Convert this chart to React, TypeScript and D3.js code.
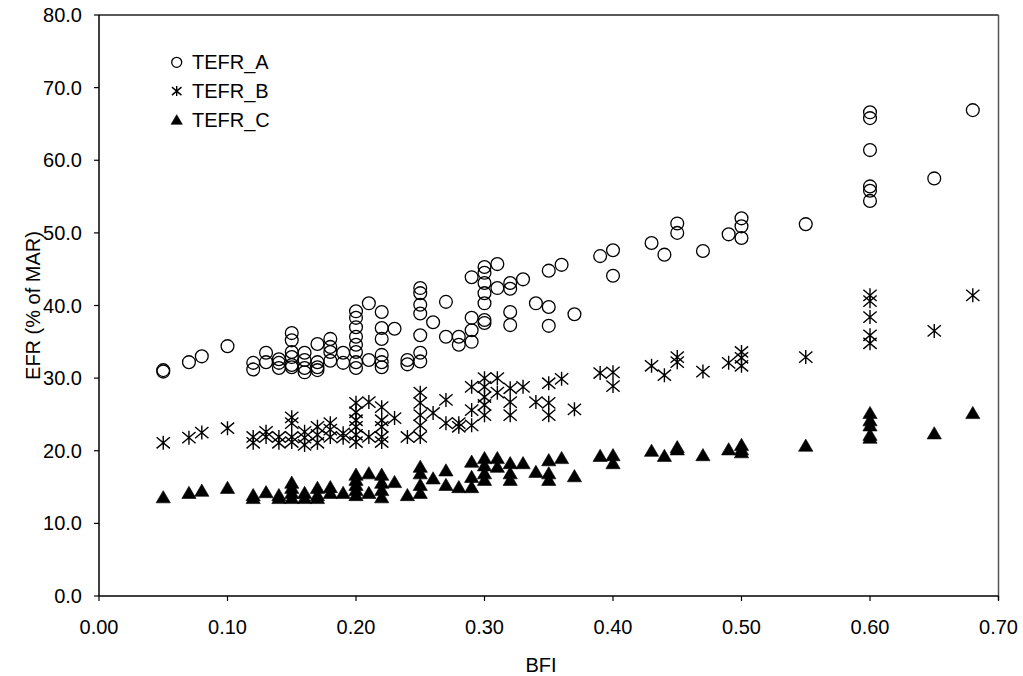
import React from "react";
import * as d3 from "d3";

// ---- Data ----
const bfiA = [0.05,0.05,0.07,0.08,0.10,0.12,0.12,0.13,0.13,0.14,0.14,0.14,0.15,0.15,0.15,0.15,0.15,0.15,0.16,0.16,0.16,0.16,0.17,0.17,0.17,0.17,0.18,0.18,0.18,0.18,0.19,0.19,0.20,0.20,0.20,0.20,0.20,0.20,0.20,0.20,0.21,0.21,0.22,0.22,0.22,0.22,0.22,0.22,0.23,0.24,0.24,0.25,0.25,0.25,0.25,0.25,0.25,0.25,0.26,0.27,0.27,0.28,0.28,0.29,0.29,0.29,0.29,0.30,0.30,0.30,0.30,0.30,0.30,0.30,0.31,0.31,0.32,0.32,0.32,0.32,0.33,0.34,0.35,0.35,0.35,0.36,0.37,0.39,0.40,0.40,0.43,0.44,0.45,0.45,0.47,0.49,0.50,0.50,0.50,0.55,0.60,0.60,0.60,0.60,0.60,0.60,0.65,0.68];
const tefrA = [31.1,30.9,32.2,33.0,34.4,32.1,31.2,33.5,32.2,32.6,32.1,31.4,36.2,35.2,33.6,32.9,31.8,31.5,33.5,32.5,31.4,30.8,34.7,32.2,31.5,31.1,35.4,34.3,33.6,32.4,33.5,32.1,39.2,38.3,37.0,35.7,34.6,33.6,32.2,31.4,40.3,32.5,39.1,36.9,35.4,33.2,32.2,31.5,36.8,32.5,31.9,42.4,41.7,40.1,38.9,35.9,33.5,32.3,37.7,40.5,35.7,35.7,34.6,43.9,38.3,36.6,35.0,45.3,44.5,43.1,41.7,40.3,38.0,37.6,45.7,42.4,43.1,42.3,39.1,37.3,43.6,40.3,44.8,39.8,37.2,45.6,38.8,46.8,47.6,44.1,48.6,47.0,51.3,50.0,47.5,49.8,52.0,50.9,49.3,51.2,66.6,65.8,61.4,56.4,55.8,54.4,57.5,66.9];

const bfiB = [0.05,0.07,0.08,0.10,0.12,0.12,0.13,0.13,0.14,0.14,0.15,0.15,0.15,0.15,0.16,0.16,0.16,0.17,0.17,0.17,0.18,0.18,0.18,0.19,0.19,0.20,0.20,0.20,0.20,0.20,0.20,0.21,0.21,0.22,0.22,0.22,0.22,0.22,0.23,0.24,0.25,0.25,0.25,0.25,0.25,0.26,0.27,0.27,0.28,0.28,0.29,0.29,0.29,0.30,0.30,0.30,0.30,0.30,0.31,0.31,0.32,0.32,0.32,0.33,0.34,0.35,0.35,0.35,0.36,0.37,0.39,0.40,0.40,0.43,0.44,0.45,0.45,0.47,0.49,0.50,0.50,0.50,0.55,0.60,0.60,0.60,0.60,0.60,0.65,0.68];
const tefrB = [21.1,21.8,22.5,23.1,21.9,21.1,22.6,21.9,21.9,21.1,24.6,23.8,21.9,21.2,22.6,21.8,20.8,23.3,22.2,21.1,23.8,22.9,21.9,22.4,21.8,26.6,25.3,24.2,23.3,22.2,21.2,26.7,21.9,26.0,24.2,23.3,21.9,21.2,24.5,21.9,28.0,26.6,24.9,23.5,21.9,25.2,27.0,23.8,23.8,23.3,28.8,25.6,23.5,30.0,28.8,27.4,26.3,24.9,30.0,28.0,28.6,26.7,24.9,28.8,26.7,29.3,26.6,24.9,29.9,25.7,30.7,30.8,28.9,31.7,30.4,32.9,32.2,30.9,32.1,33.6,32.8,31.7,32.9,41.4,40.6,38.4,35.9,34.8,36.5,41.4];

const bfiC = [0.05,0.07,0.08,0.10,0.12,0.12,0.13,0.14,0.14,0.15,0.15,0.15,0.15,0.16,0.16,0.17,0.17,0.17,0.18,0.18,0.19,0.20,0.20,0.20,0.20,0.20,0.21,0.21,0.22,0.22,0.22,0.22,0.23,0.24,0.25,0.25,0.25,0.25,0.26,0.27,0.27,0.28,0.29,0.29,0.29,0.30,0.30,0.30,0.30,0.31,0.31,0.32,0.32,0.32,0.33,0.34,0.35,0.35,0.35,0.36,0.37,0.39,0.40,0.40,0.43,0.44,0.45,0.45,0.47,0.49,0.50,0.50,0.50,0.55,0.60,0.60,0.60,0.60,0.60,0.65,0.68];
const tefrC = [13.6,14.2,14.5,14.9,13.9,13.5,14.3,13.9,13.5,15.6,14.9,14.2,13.5,14.2,13.5,14.9,13.9,13.5,15.0,14.2,14.2,16.7,16.0,15.3,14.6,13.9,16.9,14.2,16.7,15.6,14.6,13.6,15.7,13.9,17.8,16.9,15.3,14.2,16.2,17.3,15.3,15.0,18.5,16.4,15.0,19.0,18.0,16.9,16.0,19.0,17.8,18.3,16.9,16.0,18.3,17.1,18.7,16.9,16.0,19.0,16.5,19.3,19.4,18.3,20.0,19.3,20.5,20.2,19.4,20.2,20.8,20.2,19.8,20.7,25.2,24.2,23.5,22.2,21.8,22.4,25.2];

const seriesNames = ["TEFR_A", "TEFR_B", "TEFR_C"];
const xTicks = [0, 0.1, 0.2, 0.3, 0.4, 0.5, 0.6, 0.7];
const yTicks = [0, 10, 20, 30, 40, 50, 60, 70, 80];
const xTitle = "BFI";
const yTitle = "EFR (% of MAR)";

const FONT = "Arial, 'Liberation Sans', Helvetica, sans-serif";
const FS = 20;

function Marker({ kind, x, y, s }: { kind: number; x: number; y: number; s: number }) {
  if (kind === 0) {
    return <circle cx={x} cy={y} r={s} fill="none" stroke="#000" strokeWidth={1.3} />;
  }
  if (kind === 1) {
    const a = s;
    const d = `M${x},${y - a}L${x},${y + a}M${x - a * 0.95},${y - a * 0.8}L${x + a * 0.95},${y + a * 0.8}M${x - a * 0.95},${y + a * 0.8}L${x + a * 0.95},${y - a * 0.8}`;
    return <path d={d} stroke="#000" strokeWidth={1.4} fill="none" />;
  }
  const h = s;
  const d = `M${x},${y - h}L${x + h * 1.08},${y + h * 0.85}L${x - h * 1.08},${y + h * 0.85}Z`;
  return <path d={d} fill="#000" stroke="#000" strokeWidth={0.6} />;
}

export default function App() {
  const W = 1023, H = 676;
  const left = 99, right = 998.5, top = 15, bottom = 596;
  const x = d3.scaleLinear().domain([0, 0.7]).range([left, right]);
  const y = d3.scaleLinear().domain([0, 80]).range([bottom, top]);

  const series = [
    { xs: bfiA, ys: tefrA },
    { xs: bfiB, ys: tefrB },
    { xs: bfiC, ys: tefrC },
  ];

  return (
    <svg width={W} height={H} style={{ position: "absolute", left: 0, top: 0, background: "#fff" }} fontFamily={FONT}>
      <rect x={0} y={0} width={W} height={H} fill="#fff" />
      {/* frame */}
      <line x1={left} y1={top} x2={right} y2={top} stroke="#222" strokeWidth={1.3} />
      <line x1={right} y1={top} x2={right} y2={bottom + 4} stroke="#555" strokeWidth={1.5} />
      <line x1={left} y1={top} x2={left} y2={bottom} stroke="#000" strokeWidth={1.5} />
      <line x1={left} y1={bottom} x2={right} y2={bottom} stroke="#000" strokeWidth={1.5} />

      {/* y ticks */}
      {yTicks.map((t) => (
        <g key={"y" + t}>
          <line x1={left - 5} x2={left} y1={y(t)} y2={y(t)} stroke="#000" strokeWidth={1.2} />
          <text x={left - 17} y={y(t)} dy="0.35em" textAnchor="end" fontSize={FS} fill="#000">
            {d3.format(".1f")(t)}
          </text>
        </g>
      ))}
      {/* x ticks */}
      {xTicks.map((t) => (
        <g key={"x" + t}>
          <line x1={x(t)} x2={x(t)} y1={bottom} y2={bottom + 5} stroke="#000" strokeWidth={1.2} />
          <text x={x(t)} y={627} dy="0.35em" textAnchor="middle" fontSize={FS} fill="#000">
            {d3.format(".2f")(t)}
          </text>
        </g>
      ))}

      {/* titles */}
      <text x={541} y={665} dy="0.35em" textAnchor="middle" fontSize={FS} fill="#000">
        {xTitle}
      </text>
      <text
        transform={`translate(33,${(top + bottom) / 2}) rotate(-90)`}
        dy="0.35em"
        textAnchor="middle"
        fontSize={FS}
        fill="#000"
      >
        {yTitle}
      </text>

      {/* data: draw C first then B then A */}
      {[2, 1, 0].map((k) => (
        <g key={"s" + k}>
          {series[k].xs.map((bx, i) => (
            <Marker key={i} kind={k} x={x(bx)} y={y(series[k].ys[i])} s={k === 0 ? 6.4 : k === 1 ? 7 : 6.6} />
          ))}
        </g>
      ))}

      {/* legend */}
      {seriesNames.map((name, i) => {
        const ly = 62.3 + i * 28.8;
        return (
          <g key={name}>
            <Marker kind={i} x={176.7} y={ly} s={i === 0 ? 5 : i === 1 ? 5 : 5.2} />
            <text x={192} y={ly} dy="0.35em" fontSize={FS} fill="#000">
              {name}
            </text>
          </g>
        );
      })}
    </svg>
  );
}
